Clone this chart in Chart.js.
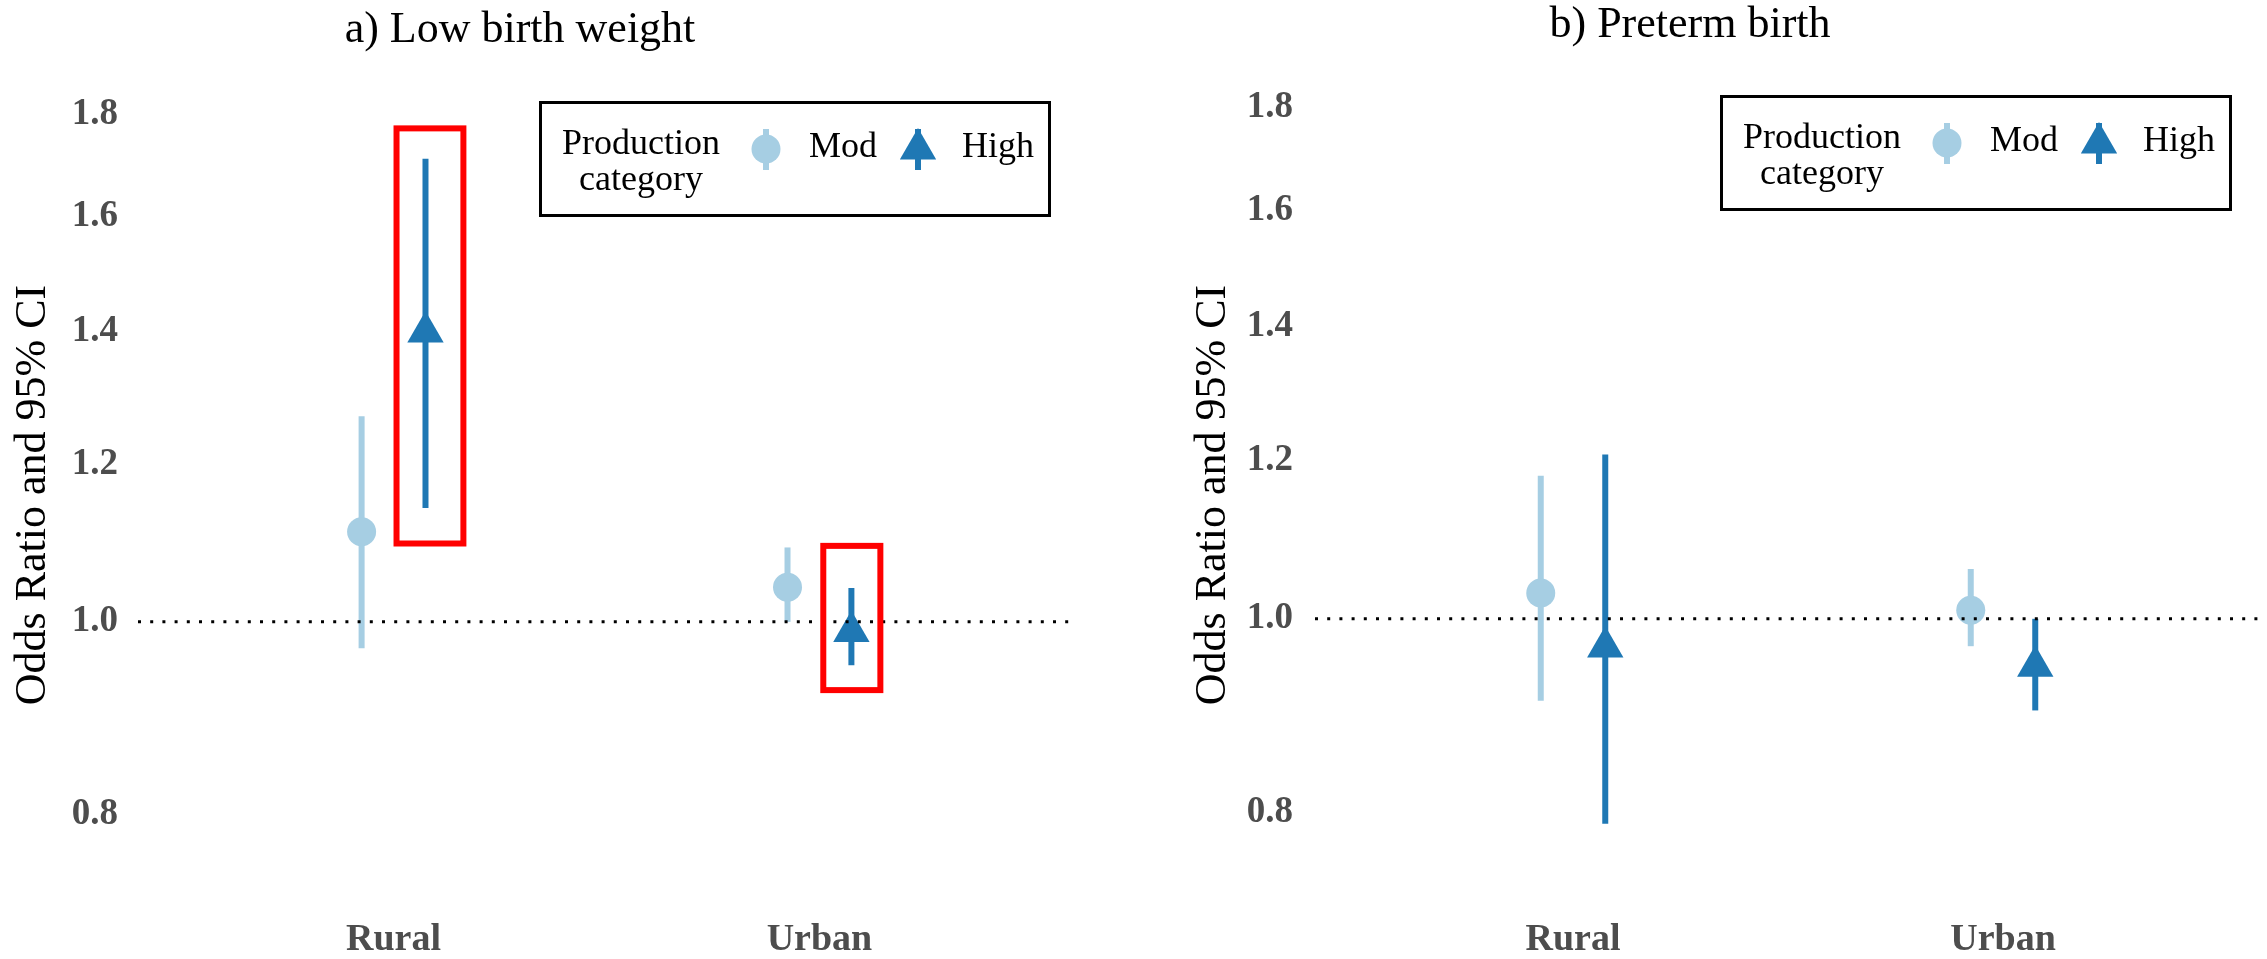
<!DOCTYPE html>
<html>
<head>
<meta charset="utf-8">
<script src="https://cdn.jsdelivr.net/npm/chart.js@4.4.1/dist/chart.umd.min.js"></script>
<style>
  html, body { margin: 0; padding: 0; background: #fff; }
  #wrap { position: relative; width: 2267px; height: 959px; overflow: hidden; }
  canvas { position: absolute; top: 0; }
  #lbw { left: 0; }
  #ptb { left: 1134px; }
</style>
</head>
<body>
<div id="wrap">
  <canvas id="lbw" width="1134" height="959"></canvas>
  <canvas id="ptb" width="1150" height="959"></canvas>
</div>
<script>
const categories = ['Rural', 'Urban'];
const seriesNames = ['Mod', 'High'];
const yTicks = [0.8, 1.0, 1.2, 1.4, 1.6, 1.8];
const refValue = 1.0;

// a) Low birth weight: odds ratio with lower / upper 95% CI
const lbwMod = [1.11, 1.041];
const lbwModLo = [0.97, 1.0];
const lbwModHi = [1.269, 1.09];
const lbwHigh = [1.399, 0.989];
const lbwHighLo = [1.141, 0.951];
const lbwHighHi = [1.71, 1.04];

// b) Preterm birth
const ptbMod = [1.03, 1.01];
const ptbModLo = [0.91, 0.969];
const ptbModHi = [1.179, 1.059];
const ptbHigh = [0.968, 0.947];
const ptbHighLo = [0.79, 0.9];
const ptbHighHi = [1.208, 1.0];

// red highlight boxes on panel a (x in category units, y in odds ratio)
const lbwBoxX = [[1.007, 1.164], [2.009, 2.143]];
const lbwBoxY = [[1.095, 1.771], [0.924, 1.092]];

const MOD_COLOR = '#a6cee3';
const HIGH_COLOR = '#1f78b4';
const SERIF = '"Liberation Serif", "Times New Roman", serif';
const DODGE = 0.075;

function toPoints(or, lo, hi, shift) {
    return categories.map((c, i) => ({ x: i + 1 + shift, y: or[i], lo: lo[i], hi: hi[i] }));
}

// vertical CI lines, drawn under the points
const errorBars = {
    id: 'errorBars',
    beforeDatasetsDraw(chart) {
        const ctx = chart.ctx;
        const y = chart.scales.y;
        chart.data.datasets.forEach((ds, i) => {
            const meta = chart.getDatasetMeta(i);
            ctx.save();
            ctx.strokeStyle = ds.backgroundColor;
            ctx.lineWidth = 6;
            ds.data.forEach((d, j) => {
                const px = meta.data[j].x;
                ctx.beginPath();
                ctx.moveTo(px, y.getPixelForValue(d.lo));
                ctx.lineTo(px, y.getPixelForValue(d.hi));
                ctx.stroke();
            });
            ctx.restore();
        });
    }
};

// dotted line at OR = 1
const refLine = {
    id: 'refLine',
    afterDatasetsDraw(chart) {
        const { ctx, chartArea } = chart;
        const py = chart.scales.y.getPixelForValue(refValue);
        ctx.save();
        ctx.strokeStyle = '#000';
        ctx.lineWidth = 3;
        ctx.setLineDash([3, 9.2]);
        ctx.beginPath();
        ctx.moveTo(chartArea.left, py);
        ctx.lineTo(chartArea.right, py);
        ctx.stroke();
        ctx.restore();
    }
};

const highlight = {
    id: 'highlight',
    afterDatasetsDraw(chart, args, opts) {
        if (!opts.xs) return;
        const { ctx, scales } = chart;
        ctx.save();
        ctx.strokeStyle = '#ff0000';
        ctx.lineWidth = 6;
        opts.xs.forEach((xr, i) => {
            const x0 = scales.x.getPixelForValue(xr[0]);
            const x1 = scales.x.getPixelForValue(xr[1]);
            const y0 = scales.y.getPixelForValue(opts.ys[i][1]);
            const y1 = scales.y.getPixelForValue(opts.ys[i][0]);
            ctx.strokeRect(x0, y0, x1 - x0, y1 - y0);
        });
        ctx.restore();
    }
};

// panel title + ggplot style legend box
const panelDecor = {
    id: 'panelDecor',
    afterDraw(chart, args, opts) {
        const ctx = chart.ctx;
        ctx.save();
        ctx.fillStyle = '#000';
        ctx.font = '44px ' + SERIF;
        ctx.textAlign = 'center';
        ctx.textBaseline = 'middle';
        ctx.fillText(opts.title, opts.titleX, opts.titleY);

        const bx = opts.legendX, by = opts.legendY;
        ctx.strokeStyle = '#000';
        ctx.lineWidth = 3;
        ctx.strokeRect(bx + 1.5, by + 1.5, 509, 113);
        ctx.font = '36px ' + SERIF;
        ctx.fillText('Production', bx + 102, by + 44);
        ctx.fillText('category', bx + 102, by + 80);

        const keyX = [bx + 227, bx + 379];
        const textX = [bx + 270, bx + 423];
        chart.data.datasets.forEach((ds, i) => {
            ctx.strokeStyle = ds.backgroundColor;
            ctx.lineWidth = 6;
            ctx.beginPath();
            ctx.moveTo(keyX[i], by + 28);
            ctx.lineTo(keyX[i], by + 69);
            ctx.stroke();
            ctx.fillStyle = ds.backgroundColor;
            Chart.helpers.drawPoint(ctx, { pointStyle: ds.pointStyle, rotation: 0, radius: ds.pointRadius, borderWidth: 0 }, keyX[i], by + 48);
            ctx.fillStyle = '#000';
            ctx.textAlign = 'left';
            ctx.fillText(ds.label, textX[i], by + 47);
        });
        ctx.restore();
    }
};

function makeChart(id, cfg) {
    return new Chart(document.getElementById(id), {
        type: 'scatter',
        data: {
            datasets: [
                {
                    label: seriesNames[0],
                    data: toPoints(cfg.mod, cfg.modLo, cfg.modHi, -DODGE),
                    backgroundColor: MOD_COLOR,
                    borderWidth: 0,
                    pointStyle: 'circle',
                    pointRadius: 14.5,
                    pointHoverRadius: 14.5
                },
                {
                    label: seriesNames[1],
                    data: toPoints(cfg.high, cfg.highLo, cfg.highHi, DODGE),
                    backgroundColor: HIGH_COLOR,
                    borderWidth: 0,
                    pointStyle: 'triangle',
                    pointRadius: 21,
                    pointHoverRadius: 21
                }
            ]
        },
        options: {
            responsive: false,
            animation: false,
            devicePixelRatio: 1,
            events: [],
            layout: { padding: { top: 90, right: cfg.padRight, bottom: 0, left: 0 } },
            plugins: {
                legend: { display: false },
                tooltip: { enabled: false },
                highlight: { xs: cfg.boxX, ys: cfg.boxY },
                panelDecor: {
                    title: cfg.title, titleX: cfg.titleX, titleY: cfg.titleY,
                    legendX: cfg.legendX, legendY: cfg.legendY
                }
            },
            scales: {
                x: {
                    type: 'linear',
                    bounds: 'data',
                    min: 0.4,
                    max: 2.6,
                    grid: { display: false, drawTicks: false },
                    border: { display: false },
                    afterBuildTicks: s => { s.ticks = categories.map((c, i) => ({ value: i + 1 })); },
                    afterFit: s => { s.height = 59; },
                    ticks: {
                        autoSkip: false,
                        padding: 17,
                        color: '#4d4d4d',
                        font: { family: SERIF, size: 38, weight: 'bold' },
                        callback: v => categories[v - 1]
                    }
                },
                y: {
                    type: 'logarithmic',
                    bounds: 'data',
                    min: cfg.yMin,
                    max: cfg.yMax,
                    grid: { display: false, drawTicks: false },
                    border: { display: false },
                    afterBuildTicks: s => { s.ticks = yTicks.map(v => ({ value: v })); },
                    afterFit: s => { s.width = cfg.yWidth; },
                    ticks: {
                        padding: cfg.yPad,
                        color: '#4d4d4d',
                        font: { family: SERIF, size: 37, weight: 'bold' },
                        callback: v => Number(v).toFixed(1)
                    },
                    title: {
                        display: true,
                        text: 'Odds Ratio and 95% CI',
                        color: '#000',
                        font: { family: SERIF, size: 44 },
                        padding: { top: cfg.titlePad, bottom: 0 }
                    }
                }
            }
        },
        plugins: [errorBars, refLine, highlight, panelDecor]
    });
}

makeChart('lbw', {
    mod: lbwMod, modLo: lbwModLo, modHi: lbwModHi,
    high: lbwHigh, highLo: lbwHighLo, highHi: lbwHighHi,
    boxX: lbwBoxX, boxY: lbwBoxY,
    title: 'a) Low birth weight', titleX: 520, titleY: 30,
    legendX: 539, legendY: 101,
    yMin: 0.7246, yMax: 1.8515,
    padRight: 59, yWidth: 138, yPad: 20, titlePad: 6.6
});

makeChart('ptb', {
    mod: ptbMod, modLo: ptbModLo, modHi: ptbModHi,
    high: ptbHigh, highLo: ptbHighLo, highHi: ptbHighHi,
    title: 'b) Preterm birth', titleX: 556, titleY: 25,
    legendX: 586, legendY: 95,
    yMin: 0.7237, yMax: 1.8371,
    padRight: 23, yWidth: 181, yPad: 22, titlePad: 52.6
});
</script>
</body>
</html>
